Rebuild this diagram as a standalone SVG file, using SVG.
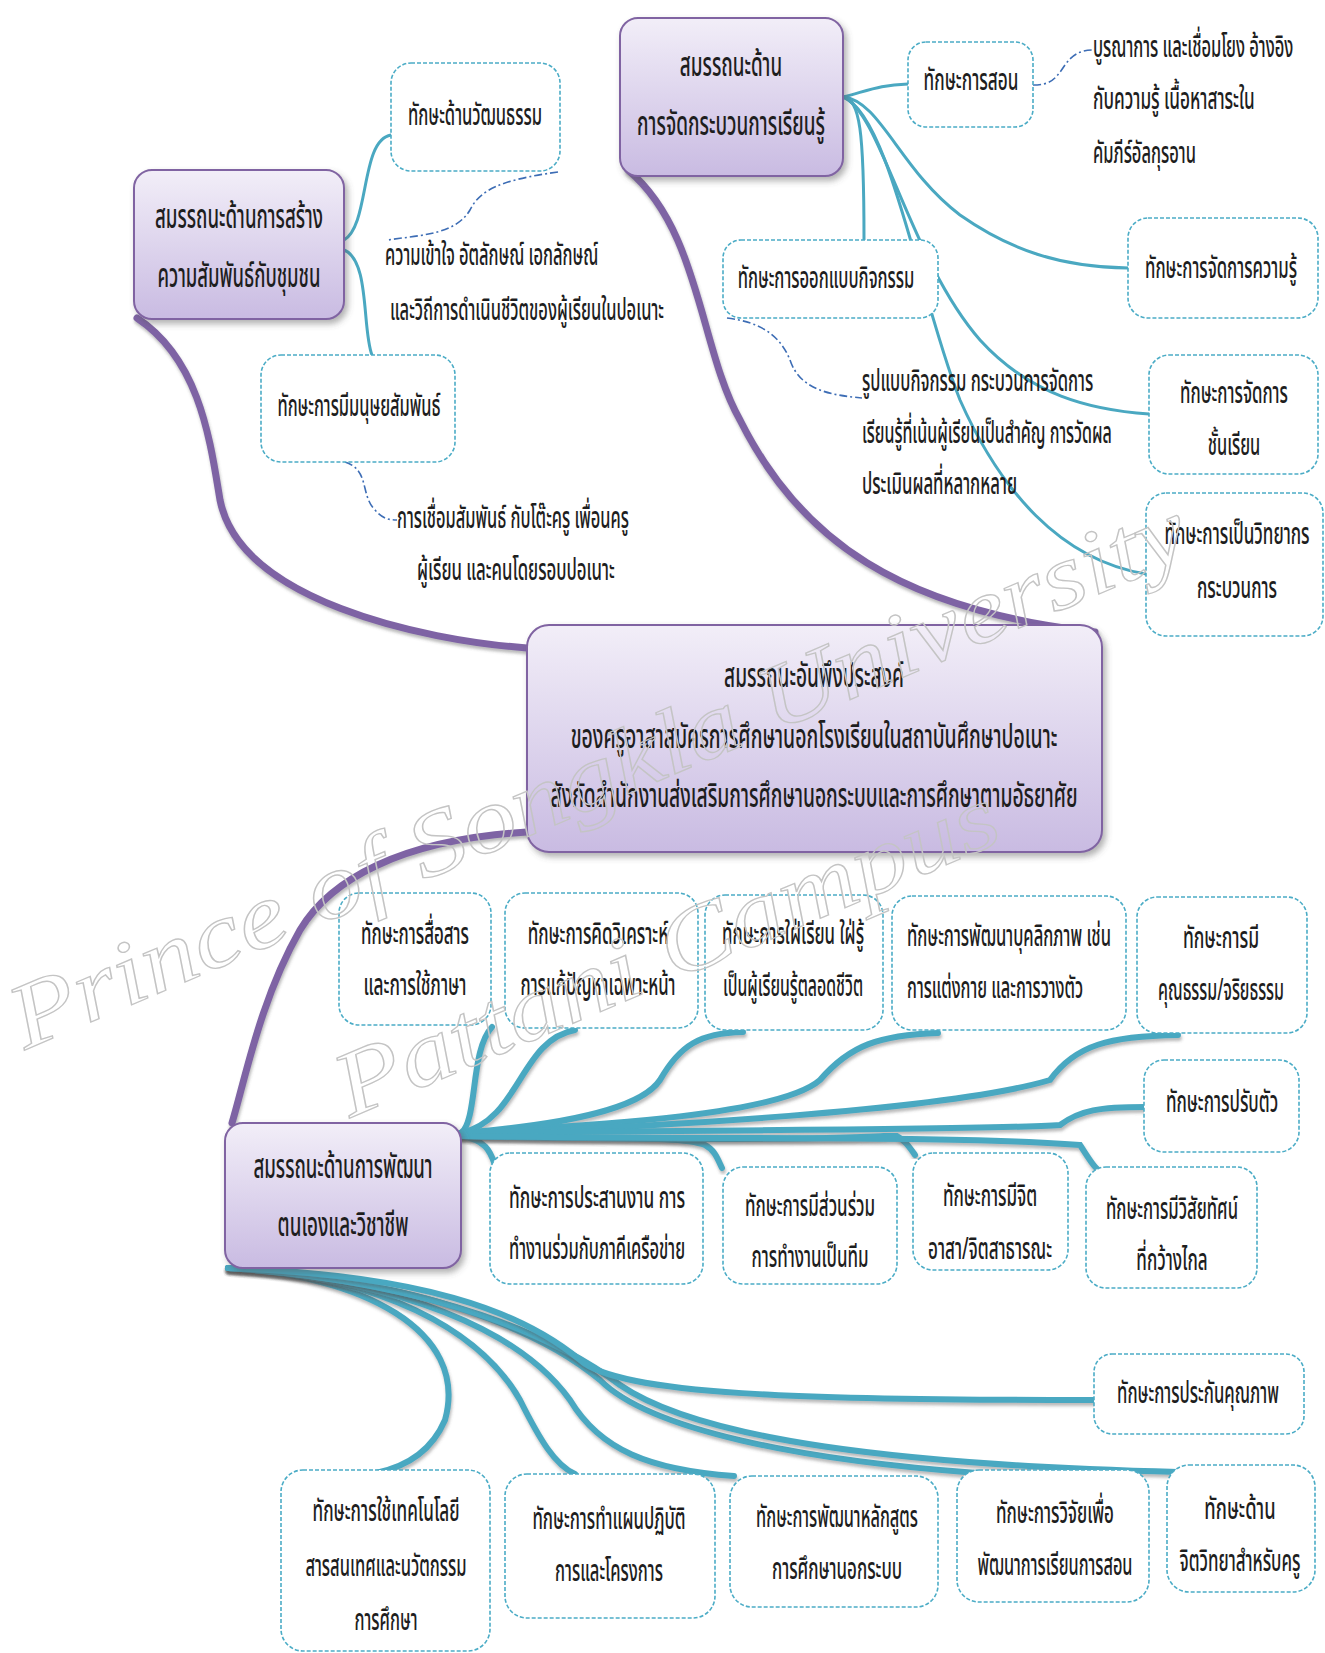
<svg xmlns="http://www.w3.org/2000/svg" width="1325" height="1653" viewBox="0 0 1325 1653">
<defs>
<linearGradient id="pg" x1="0" y1="0" x2="0" y2="1">
<stop offset="0" stop-color="#f2eef8"/>
<stop offset="1" stop-color="#c9bbe2"/>
</linearGradient>
<filter id="sh" x="-10%" y="-10%" width="130%" height="140%">
<feDropShadow dx="3" dy="4" stdDeviation="3" flood-color="#555" flood-opacity="0.45"/>
</filter>
<filter id="lsh" x="-10%" y="-10%" width="130%" height="130%">
<feDropShadow dx="1" dy="3" stdDeviation="1.5" flood-color="#555" flood-opacity="0.4"/>
</filter>
<style>
.t{font-family:'Noto Sans Thai','Noto Sans',sans-serif;font-weight:500;fill:#1e1e1e;dominant-baseline:central}
.m{font-size:34px}
.s{font-size:30px}
.c{text-anchor:middle}
.pb{fill:url(#pg);stroke:#8064a2;stroke-width:2;filter:url(#sh)}
.db{fill:#fff;stroke:#4bacc6;stroke-width:1.6;stroke-dasharray:4 2}
.pl{fill:none;stroke:#7e63a4;stroke-width:7;stroke-linecap:round;filter:url(#lsh)}
.tl{fill:none;stroke:#4aa8c1;stroke-width:6;stroke-linecap:round;filter:url(#lsh)}
.tn{fill:none;stroke:#4aa8c1;stroke-width:3;stroke-linecap:round}
.dd{fill:none;stroke:#3d6db5;stroke-width:1.6;stroke-dasharray:8 3 2 3}
.wm{font-family:'Liberation Serif',serif;font-style:italic;fill:none;stroke:#c4c4c4;stroke-width:1.3}
</style>
</defs>
<rect width="1325" height="1653" fill="#fff"/>

<g id="connectors">
<path class="pl" d="M137,318 C200,360 210,440 220,500 C240,600 420,640 527,648"/>
<path class="pl" d="M628,170 C700,230 700,350 740,420 C800,540 900,610 1095,632"/>
<path class="pl" d="M527,832 C400,840 330,880 300,930 C260,1000 245,1080 232,1123"/>
<path class="tn" d="M344,240 C370,225 360,140 391,135"/>
<path class="tn" d="M344,250 C370,260 362,330 372,355"/>
<path class="tn" d="M843,97 C870,90 880,85 908,84"/>
<path class="tn" d="M843,97 C860,100 864,130 864,240"/>
<path class="tn" d="M843,97 C880,100 900,170 960,215 C1010,250 1060,267 1128,268"/>
<path class="tn" d="M843,97 C880,110 910,260 980,340 C1030,395 1090,410 1149,414"/>
<path class="tn" d="M843,97 C890,115 920,300 960,400 C1000,490 1060,560 1146,574"/>
<path class="dd" d="M558,172 C500,180 480,190 470,210 C455,235 420,235 388,240"/>
<path class="dd" d="M345,462 C370,470 360,495 375,510 C382,518 388,520 397,520"/>
<path class="dd" d="M1033,85 C1050,85 1055,80 1065,65 C1072,55 1080,50 1093,50"/>
<path class="dd" d="M727,318 C760,322 780,335 790,360 C800,390 830,395 862,398"/>
<path class="tl" d="M461,1133 C478,1120 470,1050 492,1027"/>
<path class="tl" d="M461,1133 C520,1120 520,1040 575,1030"/>
<path class="tl" d="M461,1133 C560,1125 640,1110 660,1080 C680,1045 700,1033 743,1032"/>
<path class="tl" d="M461,1133 C600,1125 780,1115 820,1080 C850,1045 880,1035 938,1033"/>
<path class="tl" d="M461,1133 C650,1128 950,1110 1050,1080 C1075,1045 1110,1036 1178,1035"/>
<path class="tl" d="M461,1133 C700,1130 1000,1130 1060,1125 C1080,1110 1100,1107 1145,1107"/>
<path class="tl" d="M461,1136 C485,1140 490,1150 495,1165"/>
<path class="tl" d="M461,1136 C600,1140 680,1135 705,1145 C715,1150 718,1160 722,1168"/>
<path class="tl" d="M461,1136 C650,1140 850,1140 895,1135 C905,1140 910,1148 915,1155"/>
<path class="tl" d="M461,1136 C700,1140 950,1135 1080,1145 C1090,1160 1095,1170 1108,1178"/>
<path class="tl" d="M228,1268 C360,1275 470,1330 445,1420 C430,1455 400,1468 376,1473"/>
<path class="tl" d="M228,1268 C380,1275 480,1330 520,1400 C540,1440 555,1465 575,1474"/>
<path class="tl" d="M228,1268 C400,1280 520,1330 570,1400 C600,1450 650,1470 734,1476"/>
<path class="tl" d="M228,1268 C420,1280 540,1330 600,1380 C650,1430 800,1460 977,1473"/>
<path class="tl" d="M228,1268 C440,1282 560,1340 620,1385 C700,1440 900,1465 1178,1472"/>
<path class="tl" d="M228,1268 C420,1275 520,1310 580,1360 C620,1395 800,1400 1095,1400"/>
</g>

<g id="node-community">
<rect class="pb" x="134" y="170" width="210" height="149" rx="18"/>
<text class="t m c" transform="matrix(0.62 0 0 1 239 218)" textLength="271" lengthAdjust="spacingAndGlyphs">สมรรถนะด้านการสร้าง</text>
<text class="t m c" transform="matrix(0.62 0 0 1 239 277)" textLength="263" lengthAdjust="spacingAndGlyphs">ความสัมพันธ์กับชุมชน</text>
</g>
<g id="node-learning">
<rect class="pb" x="620" y="18" width="223" height="158" rx="18"/>
<text class="t m c" transform="matrix(0.62 0 0 1 731 66)" textLength="165" lengthAdjust="spacingAndGlyphs">สมรรถนะด้าน</text>
<text class="t m c" transform="matrix(0.62 0 0 1 731 125)" textLength="303" lengthAdjust="spacingAndGlyphs">การจัดกระบวนการเรียนรู้</text>
</g>
<g id="node-center">
<rect class="pb" x="527" y="625" width="575" height="227" rx="22"/>
<text class="t m c" transform="matrix(0.62 0 0 1 814 677)" textLength="290" lengthAdjust="spacingAndGlyphs">สมรรถนะอันพึงประสงค์</text>
<text class="t m c" transform="matrix(0.62 0 0 1 814 738)" textLength="785" lengthAdjust="spacingAndGlyphs">ของครูอาสาสมัครการศึกษานอกโรงเรียนในสถาบันศึกษาปอเนาะ</text>
<text class="t m c" transform="matrix(0.62 0 0 1 814 797)" textLength="850" lengthAdjust="spacingAndGlyphs">สังกัดสำนักงานส่งเสริมการศึกษานอกระบบและการศึกษาตามอัธยาศัย</text>
</g>
<g id="node-self">
<rect class="pb" x="225" y="1123" width="236" height="145" rx="18"/>
<text class="t m c" transform="matrix(0.62 0 0 1 343 1168)" textLength="289" lengthAdjust="spacingAndGlyphs">สมรรถนะด้านการพัฒนา</text>
<text class="t m c" transform="matrix(0.62 0 0 1 343 1226)" textLength="211" lengthAdjust="spacingAndGlyphs">ตนเองและวิชาชีพ</text>
</g>

<g id="node-culture">
<rect class="db" x="391" y="63" width="169" height="108" rx="20"/>
<text class="t s c" transform="matrix(0.62 0 0 1 475 116)" textLength="216" lengthAdjust="spacingAndGlyphs">ทักษะด้านวัฒนธรรม</text>
</g>
<g id="node-human">
<rect class="db" x="261" y="355" width="194" height="107" rx="20"/>
<text class="t s c" transform="matrix(0.62 0 0 1 359 407)" textLength="263" lengthAdjust="spacingAndGlyphs">ทักษะการมีมนุษยสัมพันธ์</text>
</g>
<g id="node-teach">
<rect class="db" x="908" y="42" width="125" height="85" rx="18"/>
<text class="t s c" transform="matrix(0.62 0 0 1 971 81)" textLength="153" lengthAdjust="spacingAndGlyphs">ทักษะการสอน</text>
</g>
<g id="node-design">
<rect class="db" x="723" y="240" width="215" height="78" rx="18"/>
<text class="t s c" transform="matrix(0.62 0 0 1 826 279)" textLength="285" lengthAdjust="spacingAndGlyphs">ทักษะการออกแบบกิจกรรม</text>
</g>
<g id="node-km">
<rect class="db" x="1128" y="218" width="190" height="100" rx="20"/>
<text class="t s c" transform="matrix(0.62 0 0 1 1221 269)" textLength="245" lengthAdjust="spacingAndGlyphs">ทักษะการจัดการความรู้</text>
</g>
<g id="node-class">
<rect class="db" x="1149" y="355" width="169" height="119" rx="20"/>
<text class="t s c" transform="matrix(0.62 0 0 1 1234 394)" textLength="174" lengthAdjust="spacingAndGlyphs">ทักษะการจัดการ</text>
<text class="t s c" transform="matrix(0.62 0 0 1 1234 446)" textLength="85" lengthAdjust="spacingAndGlyphs">ชั้นเรียน</text>
</g>
<g id="node-facilitator">
<rect class="db" x="1146" y="493" width="177" height="143" rx="20"/>
<text class="t s c" transform="matrix(0.62 0 0 1 1237 535)" textLength="234" lengthAdjust="spacingAndGlyphs">ทักษะการเป็นวิทยากร</text>
<text class="t s c" transform="matrix(0.62 0 0 1 1237 589)" textLength="129" lengthAdjust="spacingAndGlyphs">กระบวนการ</text>
</g>

<g id="note-teach">
<text class="t s" transform="matrix(0.62 0 0 1 1093 48)" textLength="323" lengthAdjust="spacingAndGlyphs">บูรณาการ และเชื่อมโยง อ้างอิง</text>
<text class="t s" transform="matrix(0.62 0 0 1 1093 100)" textLength="261" lengthAdjust="spacingAndGlyphs">กับความรู้ เนื้อหาสาระใน</text>
<text class="t s" transform="matrix(0.62 0 0 1 1093 154)" textLength="166" lengthAdjust="spacingAndGlyphs">คัมภีร์อัลกุรอาน</text>
</g>
<g id="note-culture">
<text class="t s" transform="matrix(0.62 0 0 1 385 256)" textLength="344" lengthAdjust="spacingAndGlyphs">ความเข้าใจ อัตลักษณ์ เอกลักษณ์</text>
<text class="t s" transform="matrix(0.62 0 0 1 390 311)" textLength="442" lengthAdjust="spacingAndGlyphs">และวิถีการดำเนินชีวิตของผู้เรียนในปอเนาะ</text>
</g>
<g id="note-human">
<text class="t s" transform="matrix(0.62 0 0 1 397 519)" textLength="374" lengthAdjust="spacingAndGlyphs">การเชื่อมสัมพันธ์ กับโต๊ะครู เพื่อนครู</text>
<text class="t s" transform="matrix(0.62 0 0 1 417 571)" textLength="319" lengthAdjust="spacingAndGlyphs">ผู้เรียน และคนโดยรอบปอเนาะ</text>
</g>
<g id="note-design">
<text class="t s" transform="matrix(0.62 0 0 1 862 382)" textLength="373" lengthAdjust="spacingAndGlyphs">รูปแบบกิจกรรม กระบวนการจัดการ</text>
<text class="t s" transform="matrix(0.62 0 0 1 862 434)" textLength="403" lengthAdjust="spacingAndGlyphs">เรียนรู้ที่เน้นผู้เรียนเป็นสำคัญ การวัดผล</text>
<text class="t s" transform="matrix(0.62 0 0 1 862 485)" textLength="250" lengthAdjust="spacingAndGlyphs">ประเมินผลที่หลากหลาย</text>
</g>

<g id="node-comm">
<rect class="db" x="339" y="893" width="152" height="132" rx="20"/>
<text class="t s c" transform="matrix(0.62 0 0 1 415 935)" textLength="174" lengthAdjust="spacingAndGlyphs">ทักษะการสื่อสาร</text>
<text class="t s c" transform="matrix(0.62 0 0 1 415 986)" textLength="166" lengthAdjust="spacingAndGlyphs">และการใช้ภาษา</text>
</g>
<g id="node-think">
<rect class="db" x="505" y="893" width="193" height="135" rx="20"/>
<text class="t s c" transform="matrix(0.62 0 0 1 598 935)" textLength="227" lengthAdjust="spacingAndGlyphs">ทักษะการคิดวิเคราะห์</text>
<text class="t s c" transform="matrix(0.62 0 0 1 598 986)" textLength="250" lengthAdjust="spacingAndGlyphs">การแก้ปัญหาเฉพาะหน้า</text>
</g>
<g id="node-lifelong">
<rect class="db" x="705" y="895" width="178" height="135" rx="20"/>
<text class="t s c" transform="matrix(0.62 0 0 1 793 935)" textLength="229" lengthAdjust="spacingAndGlyphs">ทักษะการใฝ่เรียน ใฝ่รู้</text>
<text class="t s c" transform="matrix(0.62 0 0 1 793 987)" textLength="226" lengthAdjust="spacingAndGlyphs">เป็นผู้เรียนรู้ตลอดชีวิต</text>
</g>
<g id="node-personality">
<rect class="db" x="892" y="896" width="234" height="134" rx="20"/>
<text class="t s" transform="matrix(0.62 0 0 1 907 937)" textLength="329" lengthAdjust="spacingAndGlyphs">ทักษะการพัฒนาบุคลิกภาพ เช่น</text>
<text class="t s" transform="matrix(0.62 0 0 1 907 989)" textLength="284" lengthAdjust="spacingAndGlyphs">การแต่งกาย และการวางตัว</text>
</g>
<g id="node-moral">
<rect class="db" x="1137" y="897" width="170" height="136" rx="20"/>
<text class="t s c" transform="matrix(0.62 0 0 1 1221 939)" textLength="123" lengthAdjust="spacingAndGlyphs">ทักษะการมี</text>
<text class="t s c" transform="matrix(0.62 0 0 1 1221 991)" textLength="203" lengthAdjust="spacingAndGlyphs">คุณธรรม/จริยธรรม</text>
</g>
<g id="node-adapt">
<rect class="db" x="1144" y="1060" width="155" height="92" rx="20"/>
<text class="t s c" transform="matrix(0.62 0 0 1 1222 1103)" textLength="181" lengthAdjust="spacingAndGlyphs">ทักษะการปรับตัว</text>
</g>
<g id="node-coord">
<rect class="db" x="490" y="1153" width="213" height="131" rx="20"/>
<text class="t s" transform="matrix(0.62 0 0 1 509 1199)" textLength="284" lengthAdjust="spacingAndGlyphs">ทักษะการประสานงาน การ</text>
<text class="t s" transform="matrix(0.62 0 0 1 509 1250)" textLength="284" lengthAdjust="spacingAndGlyphs">ทำงานร่วมกับภาคีเครือข่าย</text>
</g>
<g id="node-team">
<rect class="db" x="723" y="1167" width="174" height="117" rx="20"/>
<text class="t s c" transform="matrix(0.62 0 0 1 810 1207)" textLength="210" lengthAdjust="spacingAndGlyphs">ทักษะการมีส่วนร่วม</text>
<text class="t s c" transform="matrix(0.62 0 0 1 810 1258)" textLength="189" lengthAdjust="spacingAndGlyphs">การทำงานเป็นทีม</text>
</g>
<g id="node-volunteer">
<rect class="db" x="913" y="1153" width="155" height="117" rx="20"/>
<text class="t s c" transform="matrix(0.62 0 0 1 990 1197)" textLength="152" lengthAdjust="spacingAndGlyphs">ทักษะการมีจิต</text>
<text class="t s c" transform="matrix(0.62 0 0 1 990 1250)" textLength="200" lengthAdjust="spacingAndGlyphs">อาสา/จิตสาธารณะ</text>
</g>
<g id="node-vision">
<rect class="db" x="1086" y="1167" width="171" height="121" rx="20"/>
<text class="t s c" transform="matrix(0.62 0 0 1 1172 1210)" textLength="213" lengthAdjust="spacingAndGlyphs">ทักษะการมีวิสัยทัศน์</text>
<text class="t s c" transform="matrix(0.62 0 0 1 1172 1261)" textLength="115" lengthAdjust="spacingAndGlyphs">ที่กว้างไกล</text>
</g>
<g id="node-qa">
<rect class="db" x="1094" y="1354" width="210" height="80" rx="18"/>
<text class="t s c" transform="matrix(0.62 0 0 1 1198 1394)" textLength="261" lengthAdjust="spacingAndGlyphs">ทักษะการประกันคุณภาพ</text>
</g>
<g id="node-tech">
<rect class="db" x="281" y="1470" width="209" height="181" rx="22"/>
<text class="t s c" transform="matrix(0.62 0 0 1 386 1512)" textLength="237" lengthAdjust="spacingAndGlyphs">ทักษะการใช้เทคโนโลยี</text>
<text class="t s c" transform="matrix(0.62 0 0 1 386 1567)" textLength="260" lengthAdjust="spacingAndGlyphs">สารสนเทศและนวัตกรรม</text>
<text class="t s c" transform="matrix(0.62 0 0 1 386 1621)" textLength="102" lengthAdjust="spacingAndGlyphs">การศึกษา</text>
</g>
<g id="node-plan">
<rect class="db" x="505" y="1474" width="210" height="144" rx="22"/>
<text class="t s c" transform="matrix(0.62 0 0 1 609 1520)" textLength="247" lengthAdjust="spacingAndGlyphs">ทักษะการทำแผนปฏิบัติ</text>
<text class="t s c" transform="matrix(0.62 0 0 1 609 1572)" textLength="174" lengthAdjust="spacingAndGlyphs">การและโครงการ</text>
</g>
<g id="node-curriculum">
<rect class="db" x="730" y="1476" width="208" height="131" rx="22"/>
<text class="t s c" transform="matrix(0.62 0 0 1 837 1518)" textLength="261" lengthAdjust="spacingAndGlyphs">ทักษะการพัฒนาหลักสูตร</text>
<text class="t s c" transform="matrix(0.62 0 0 1 837 1570)" textLength="210" lengthAdjust="spacingAndGlyphs">การศึกษานอกระบบ</text>
</g>
<g id="node-research">
<rect class="db" x="957" y="1470" width="192" height="132" rx="22"/>
<text class="t s c" transform="matrix(0.62 0 0 1 1055 1514)" textLength="190" lengthAdjust="spacingAndGlyphs">ทักษะการวิจัยเพื่อ</text>
<text class="t s c" transform="matrix(0.62 0 0 1 1055 1566)" textLength="250" lengthAdjust="spacingAndGlyphs">พัฒนาการเรียนการสอน</text>
</g>
<g id="node-psych">
<rect class="db" x="1167" y="1465" width="148" height="127" rx="22"/>
<text class="t s c" transform="matrix(0.62 0 0 1 1240 1510)" textLength="115" lengthAdjust="spacingAndGlyphs">ทักษะด้าน</text>
<text class="t s c" transform="matrix(0.62 0 0 1 1240 1562)" textLength="195" lengthAdjust="spacingAndGlyphs">จิตวิทยาสำหรับครู</text>
</g>

<g id="watermark">
<text class="wm" font-size="92" transform="translate(25,1050) rotate(-23)" textLength="1270" lengthAdjust="spacingAndGlyphs">Prince of Songkla University</text>
<text class="wm" font-size="92" transform="translate(350,1118) rotate(-23)" textLength="712" lengthAdjust="spacingAndGlyphs">Pattani Campus</text>
</g>
</svg>
